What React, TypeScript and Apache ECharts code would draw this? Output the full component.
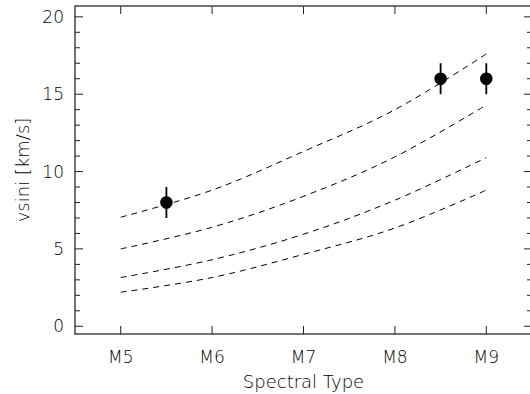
import React, { useEffect, useRef } from "react";
import * as echarts from "echarts";

const spectralTicks = [5, 6, 7, 8, 9];
const spectralLabels = ["M5", "M6", "M7", "M8", "M9"];
const yMajor = [0, 5, 10, 15, 20];
const yMinor = [1, 2, 3, 4, 6, 7, 8, 9, 11, 12, 13, 14, 16, 17, 18, 19];

const curveX = [5, 6, 7, 8, 9];
const curve1 = [7.05, 8.8, 11.3, 14.0, 17.6];
const curve2 = [5.0, 6.4, 8.4, 10.95, 14.3];
const curve3 = [3.15, 4.3, 5.95, 8.15, 10.9];
const curve4 = [2.2, 3.15, 4.65, 6.35, 8.8];

const starX = [5.5, 8.5, 9];
const starV = [8, 16, 16];
const starErr = [1, 1, 1];

const X_MIN = 4.5;
const X_MAX = 9.5;
const Y_MIN = -0.5;
const Y_MAX = 20.7;

const FONT = "DejaVu Sans";
const AX = "#444";
const TICK = "#222";
const TXT = "#000";

export default function App() {
  const ref = useRef<HTMLDivElement>(null);
  useEffect(() => {
    if (!ref.current) return;
    const chart = echarts.init(ref.current, null, { renderer: "svg" });
    const dashed = (d: number[]) => ({
      type: "line",
      data: curveX.map((x, i) => [x, d[i]]),
      smooth: 0.35,
      symbol: "none",
      lineStyle: { color: "#000", width: 1, type: [6, 5] },
      z: 2,
    });
    const tickStyle = { stroke: TICK, lineWidth: 1 };
    const xTickSeries = {
      type: "custom",
      data: spectralTicks.map((v) => [v]),
      encode: { x: 0 },
      clip: false,
      silent: true,
      renderItem: (_p: any, api: any) => {
        const b = api.coord([api.value(0), Y_MIN]);
        const t = api.coord([api.value(0), Y_MAX]);
        return {
          type: "group",
          children: [
            { type: "line", shape: { x1: b[0], y1: b[1], x2: b[0], y2: b[1] - 8 }, style: tickStyle },
            { type: "line", shape: { x1: t[0], y1: t[1], x2: t[0], y2: t[1] + 8 }, style: tickStyle },
          ],
        };
      },
      z: 5,
    };
    const yTickSeries = (vals: number[], len: number) => ({
      type: "custom",
      data: vals.map((v) => [X_MIN, v]),
      clip: false,
      silent: true,
      renderItem: (_p: any, api: any) => {
        const l = api.coord([X_MIN, api.value(1)]);
        const r = api.coord([X_MAX, api.value(1)]);
        return {
          type: "group",
          children: [
            { type: "line", shape: { x1: l[0], y1: l[1], x2: l[0] + len, y2: l[1] }, style: tickStyle },
            { type: "line", shape: { x1: r[0], y1: r[1], x2: r[0] - len, y2: r[1] }, style: tickStyle },
          ],
        };
      },
      z: 5,
    });
    const frameSeries = {
      type: "custom",
      data: [[X_MIN, Y_MIN]],
      clip: false,
      silent: true,
      renderItem: (_p: any, api: any) => {
        const tl = api.coord([X_MIN, Y_MAX]);
        const tr = api.coord([X_MAX, Y_MAX]);
        const br = api.coord([X_MAX, Y_MIN]);
        return {
          type: "polyline",
          shape: { points: [tl, tr, br] },
          style: { stroke: AX, lineWidth: 1.5, fill: "none" },
        };
      },
      z: 5,
    };
    chart.setOption({
      animation: false,
      grid: { left: 75, right: -2, top: 6, bottom: 60, containLabel: false, outerBoundsMode: "none" },
      xAxis: {
        type: "value",
        min: X_MIN,
        max: X_MAX,
        splitLine: { show: false },
        name: "Spectral Type",
        nameLocation: "middle",
        nameGap: 38,
        nameTextStyle: { fontFamily: FONT, fontSize: 18, fontWeight: 200, color: TXT },
        axisLine: { show: true, onZero: false, lineStyle: { color: AX, width: 1.5 } },
        axisTick: { show: false },
        axisLabel: {
          show: true,
          customValues: spectralTicks,
          formatter: (v: number) => spectralLabels[spectralTicks.indexOf(Math.round(v))] ?? "",
          margin: 14,
          fontFamily: FONT,
          fontSize: 17,
          fontWeight: 200,
          color: TXT,
        },
      },
      yAxis: {
        type: "value",
        min: Y_MIN,
        max: Y_MAX,
        splitLine: { show: false },
        name: "vsini [km/s]",
        nameLocation: "middle",
        nameGap: 44,
        nameRotate: 90,
        nameTextStyle: { fontFamily: FONT, fontSize: 18, fontWeight: 200, color: TXT },
        axisLine: { show: true, onZero: false, lineStyle: { color: AX, width: 1.5 } },
        axisTick: { show: false },
        axisLabel: {
          show: true,
          customValues: yMajor,
          margin: 11,
          fontFamily: FONT,
          fontSize: 17,
          fontWeight: 200,
          color: TXT,
        },
      },
      series: [
        dashed(curve1),
        dashed(curve2),
        dashed(curve3),
        dashed(curve4),
        {
          type: "custom",
          data: starX.map((x, i) => [x, starV[i] - starErr[i], starV[i] + starErr[i]]),
          renderItem: (_params: any, api: any) => {
            const lo = api.coord([api.value(0), api.value(1)]);
            const hi = api.coord([api.value(0), api.value(2)]);
            return {
              type: "line",
              shape: { x1: lo[0], y1: lo[1], x2: hi[0], y2: hi[1] },
              style: { stroke: "#000", lineWidth: 1.8 },
            };
          },
          z: 3,
        },
        {
          type: "scatter",
          data: starX.map((x, i) => [x, starV[i]]),
          symbol: "circle",
          symbolSize: 12.5,
          itemStyle: { color: "#000", opacity: 1 },
          z: 4,
        },
        xTickSeries,
        yTickSeries(yMajor, 8),
        yTickSeries(yMinor, 5),
        frameSeries,
      ],
    });
    return () => chart.dispose();
  }, []);
  return (
    <div
      ref={ref}
      style={{ position: "fixed", left: 0, top: 0, width: 530, height: 394, background: "#fff" }}
    />
  );
}
